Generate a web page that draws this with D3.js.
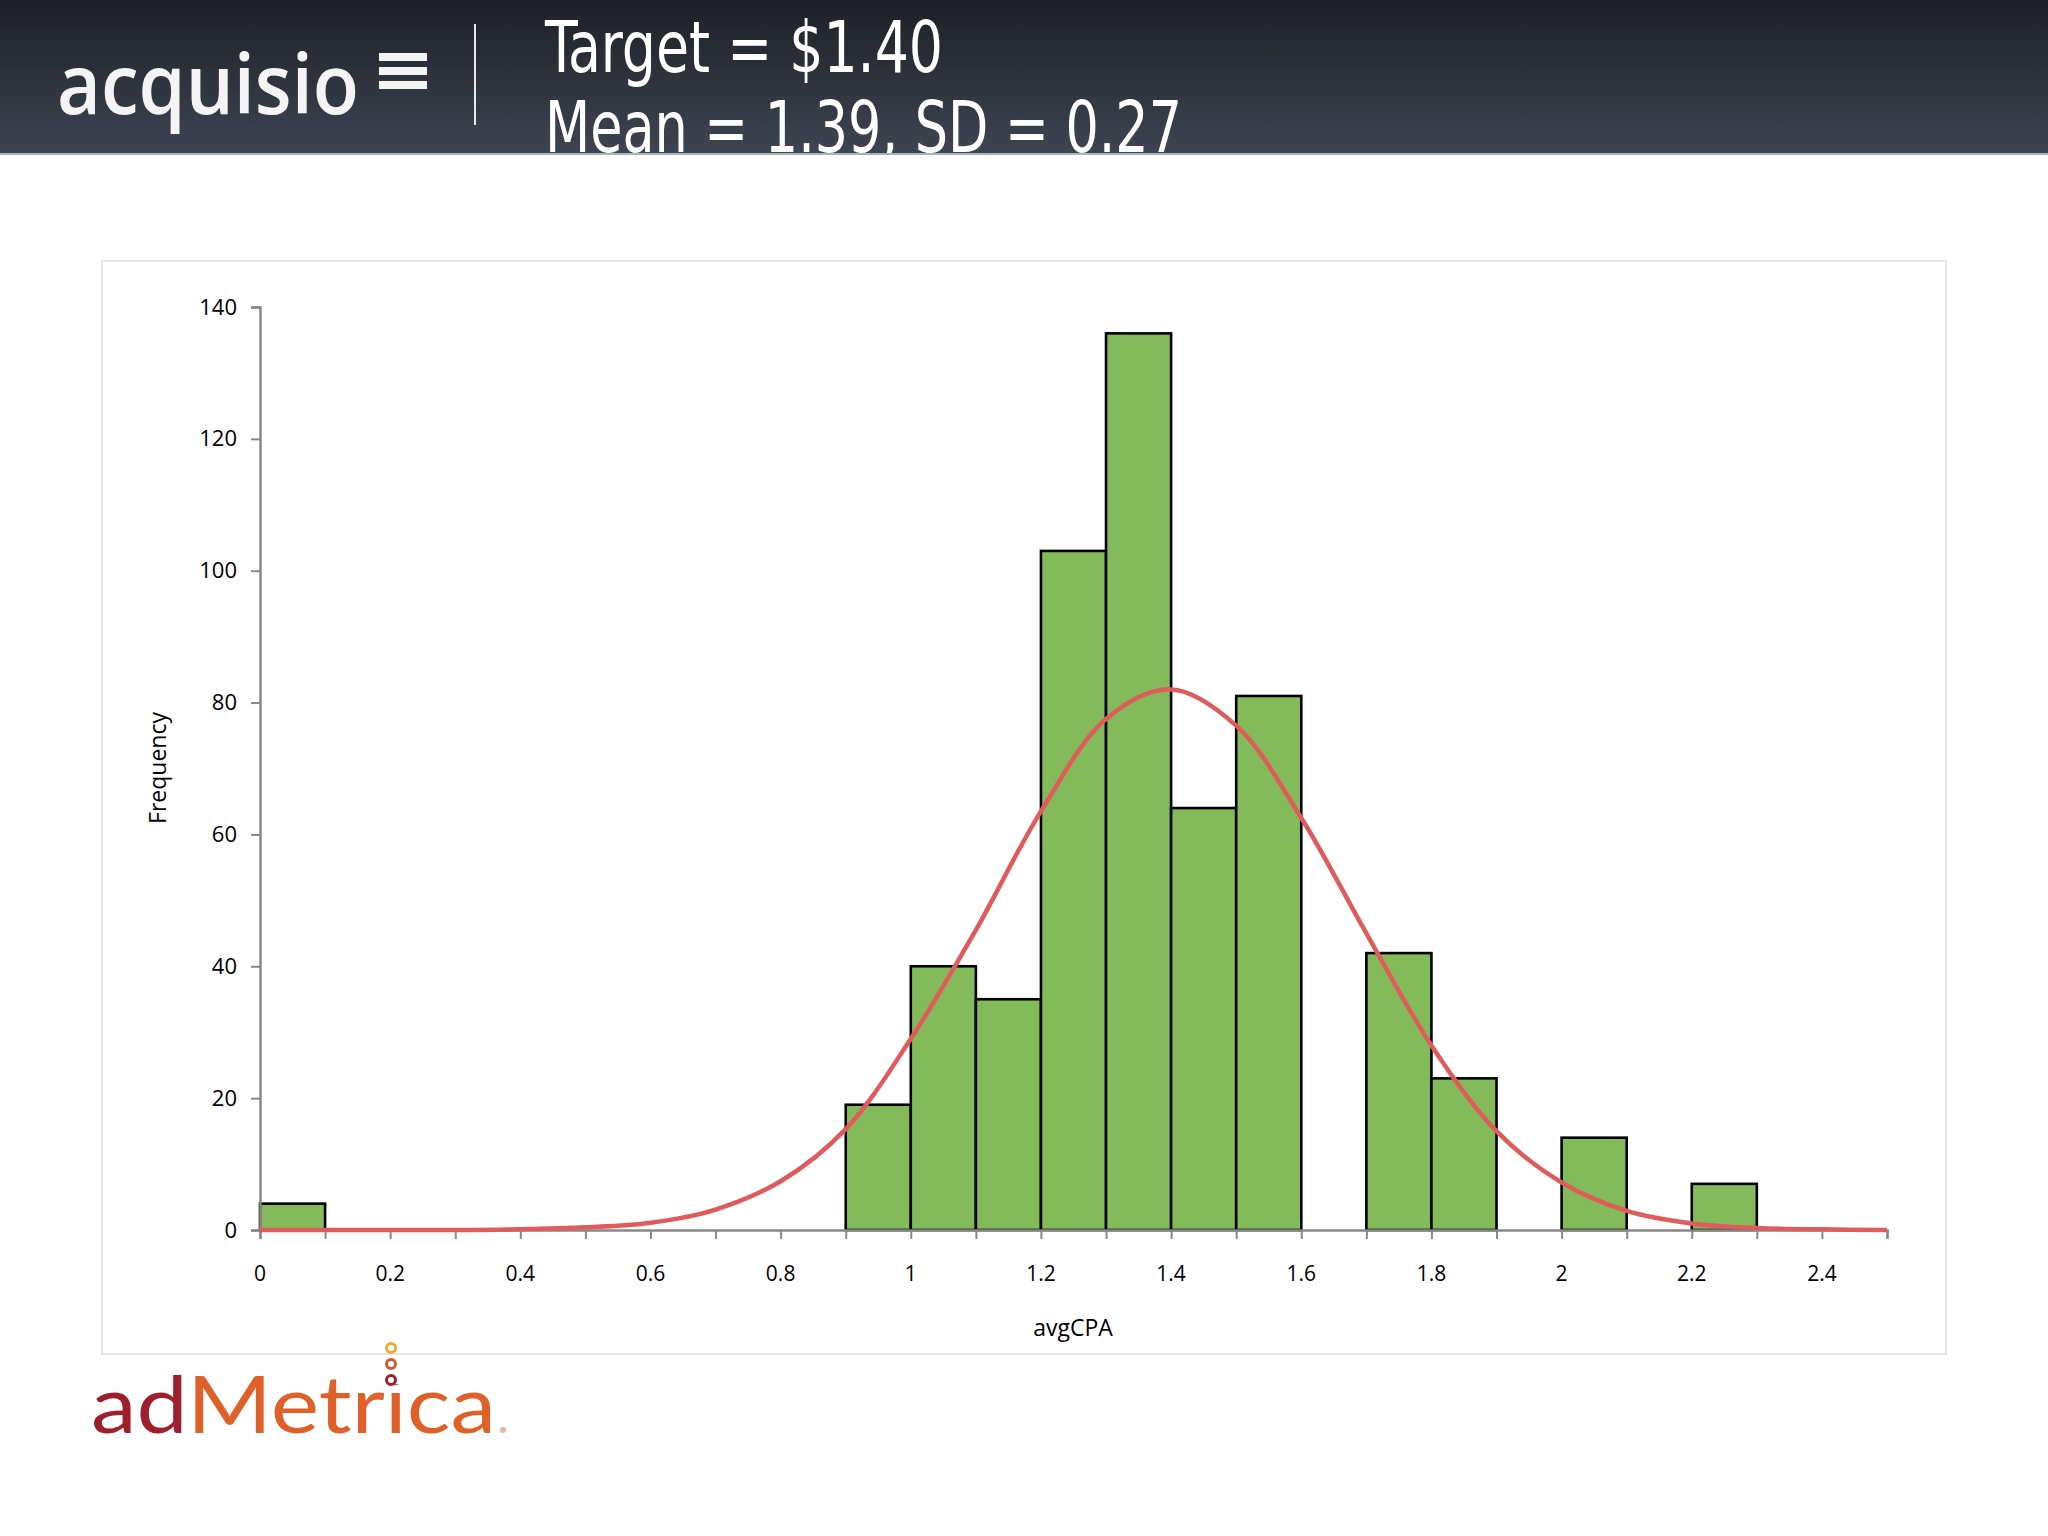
<!DOCTYPE html>
<html><head><meta charset="utf-8">
<script src="https://cdn.jsdelivr.net/npm/d3@7"></script>
<style>html,body{margin:0;padding:0;background:#fff;}svg{display:block;}</style>
</head><body>
<script>
// ---- data ----
const binStarts = [0,0.1,0.2,0.3,0.4,0.5,0.6,0.7,0.8,0.9,1.0,1.1,1.2,1.3,1.4,1.5,1.6,1.7,1.8,1.9,2.0,2.1,2.2,2.3,2.4];
const counts    = [4,0,0,0,0,0,0,0,0,19,40,35,103,136,64,81,0,42,23,0,14,0,7,0,0];
const binWidth = 0.1;
const curveX = [0,0.1,0.2,0.3,0.4,0.5,0.6,0.7,0.8,0.9,1.0,1.1,1.2,1.3,1.4,1.5,1.6,1.7,1.8,1.9,2.0,2.1,2.2,2.3,2.4,2.5];
const curveY = [0,0,0,0,0.1,0.4,1.1,3.1,7.4,15.3,29,45.5,63.5,77.5,82,76.5,62.5,45,28,15,7.2,2.9,1.0,0.3,0.1,0];
const xTicks = [0,0.1,0.2,0.3,0.4,0.5,0.6,0.7,0.8,0.9,1.0,1.1,1.2,1.3,1.4,1.5,1.6,1.7,1.8,1.9,2.0,2.1,2.2,2.3,2.4,2.5];
const xLabels = [0,0.2,0.4,0.6,0.8,1,1.2,1.4,1.6,1.8,2,2.2,2.4];
const yTicks = [0,20,40,60,80,100,120,140];
const titleLines = ["Target = $1.40","Mean = 1.39, SD = 0.27"];
const xTitle = "avgCPA", yTitle = "Frequency";

const W = 2048, H = 1536;
const svg = d3.select("body").append("svg").attr("width", W).attr("height", H);
const defs = svg.append("defs");

// header
const grad = defs.append("linearGradient").attr("id","hg").attr("x1",0).attr("y1",0).attr("x2",0).attr("y2",1);
grad.append("stop").attr("offset","0%").attr("stop-color","#1d2025");
grad.append("stop").attr("offset","100%").attr("stop-color","#3e4552");
defs.append("clipPath").attr("id","hclip").append("rect").attr("x",0).attr("y",0).attr("width",W).attr("height",154);
const header = svg.append("g").attr("clip-path","url(#hclip)");
header.append("rect").attr("x",0).attr("y",0).attr("width",W).attr("height",154).attr("fill","url(#hg)");
svg.append("rect").attr("x",0).attr("y",153).attr("width",W).attr("height",2).attr("fill","#aab2bf");

// acquisio logo
header.append("text").attr("x",57).attr("y",114).attr("fill","#f4f4f4")
  .attr("font-family","'Open Sans', sans-serif").attr("font-weight",600).attr("font-size",84)
  .attr("textLength",302).attr("lengthAdjust","spacingAndGlyphs").text("acquisio");
[53,67,81].forEach(y=>header.append("rect").attr("x",379).attr("y",y).attr("width",48).attr("height",8).attr("fill","#f4f4f4"));
header.append("rect").attr("x",474).attr("y",24).attr("width",2).attr("height",101).attr("fill","#e8e8e8");

header.append("text").attr("x",545).attr("y",72).attr("fill","#fff")
  .attr("font-family","'Liberation Sans Narrow','DejaVu Sans Condensed',sans-serif").attr("font-size",72)
  .attr("textLength",398).attr("lengthAdjust","spacingAndGlyphs").text(titleLines[0]);
header.append("text").attr("x",545).attr("y",152).attr("fill","#fff")
  .attr("font-family","'Liberation Sans Narrow','DejaVu Sans Condensed',sans-serif").attr("font-size",72)
  .attr("textLength",637).attr("lengthAdjust","spacingAndGlyphs").text(titleLines[1]);

// chart frame
svg.append("rect").attr("x",102).attr("y",261).attr("width",1844).attr("height",1093)
  .attr("fill","#fff").attr("stroke","#e6e6e8").attr("stroke-width",2);

const x = d3.scaleLinear().domain([0,2.5]).range([260,1887]);
const y = d3.scaleLinear().domain([0,140]).range([1230,307]);
const font = "'Open Sans', sans-serif";

// bars
const bars = binStarts.map((b,i)=>({b, c:counts[i]})).filter(d=>d.c>0);
svg.append("g").selectAll("rect").data(bars).join("rect")
  .attr("x",d=>x(d.b)).attr("y",d=>y(d.c))
  .attr("width",d=>x(d.b+binWidth)-x(d.b)).attr("height",d=>y(0)-y(d.c))
  .attr("fill","#84bb5a").attr("stroke","#000").attr("stroke-width",2.6);

// axes
const xAxis = svg.append("g").attr("transform",`translate(0,${y(0)})`)
  .call(d3.axisBottom(x).tickValues(xTicks).tickSize(9).tickFormat(""));
xAxis.select(".domain").attr("stroke","#888").attr("stroke-width",2.5);
xAxis.selectAll(".tick line").attr("stroke","#888").attr("stroke-width",2);
svg.append("g").selectAll("text").data(xLabels).join("text")
  .attr("x",d=>x(d)).attr("y",1281).attr("text-anchor","middle")
  .attr("font-family",font).attr("font-size",21).attr("fill","#000").text(d=>d);

const yAxis = svg.append("g").attr("transform",`translate(${x(0)},0)`)
  .call(d3.axisLeft(y).tickValues(yTicks).tickSize(9).tickPadding(14));
yAxis.select(".domain").attr("stroke","#888").attr("stroke-width",2.5);
yAxis.selectAll(".tick line").attr("stroke","#888").attr("stroke-width",2);
yAxis.selectAll(".tick text").attr("font-family",font).attr("font-size",22).attr("fill","#000");

// curve
const line = d3.line().x((d,i)=>x(curveX[i])).y(d=>y(d)).curve(d3.curveCatmullRom);
svg.append("path").datum(curveY).attr("d",line).attr("fill","none")
  .attr("stroke","#e05b5b").attr("stroke-width",4.5);

// titles
svg.append("text").attr("x",1073).attr("y",1336).attr("text-anchor","middle")
  .attr("font-family",font).attr("font-size",23).attr("fill","#000").text(xTitle);
svg.append("text").attr("transform","translate(166,768) rotate(-90)").attr("text-anchor","middle")
  .attr("font-family",font).attr("font-size",23).attr("fill","#000").text(yTitle);

// adMetrica logo
const logo = svg.append("text").attr("x",91).attr("y",1433)
  .attr("font-family","'Lato', sans-serif").attr("font-weight",400).attr("font-size",80)
  .attr("textLength",405).attr("lengthAdjust","spacingAndGlyphs");
logo.append("tspan").attr("fill","#9e1f2b").text("ad");
logo.append("tspan").attr("fill","#e0602a").text("Metrica");
svg.append("rect").attr("x",378).attr("y",1364).attr("width",24).attr("height",20).attr("fill","#fff");
[[1348,"#f0aa30"],[1364,"#cf5a32"],[1380,"#9e1f2b"]].forEach(([cy,c])=>
  svg.append("circle").attr("cx",391).attr("cy",cy).attr("r",4.5).attr("fill","#fff").attr("stroke",c).attr("stroke-width",3));
svg.append("circle").attr("cx",503).attr("cy",1430).attr("r",3).attr("fill","#e8b8a0");
</script>
</body></html>
